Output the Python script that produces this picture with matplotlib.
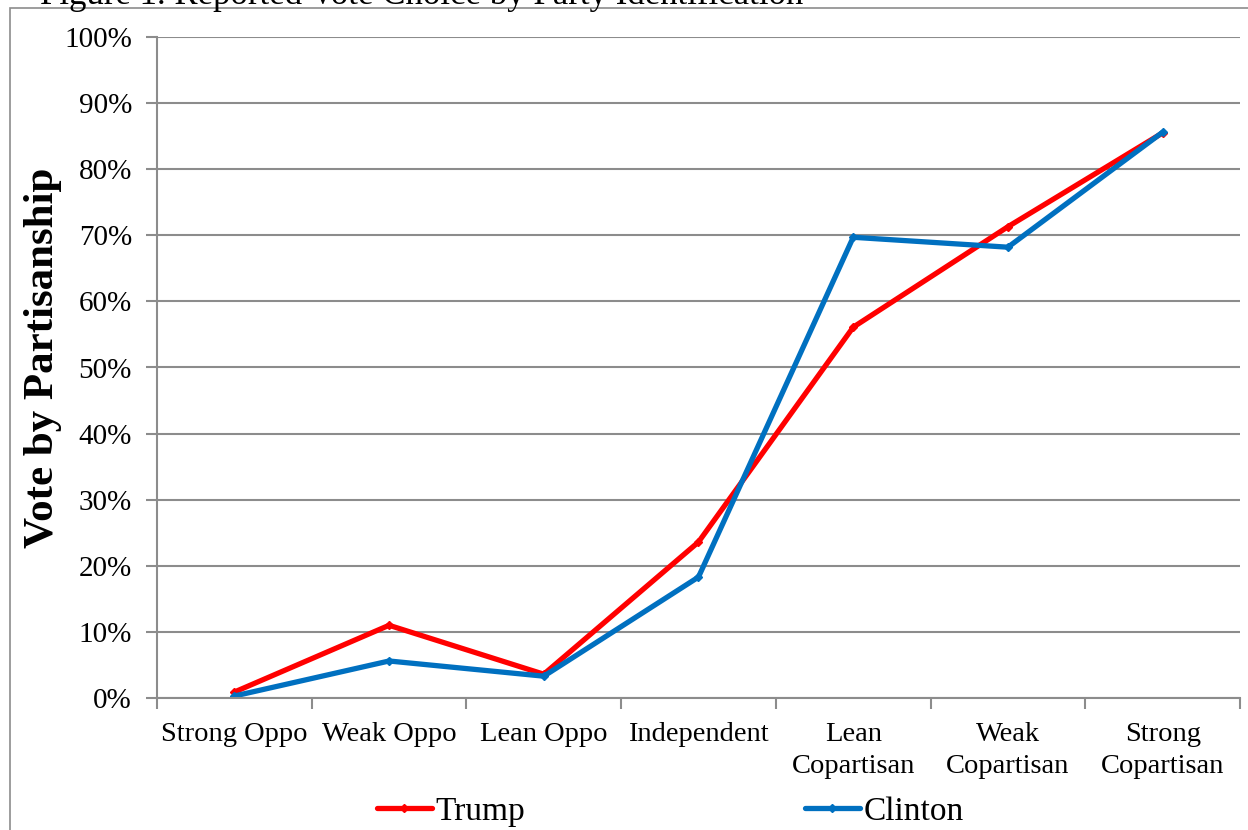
import matplotlib.pyplot as plt
from matplotlib.patches import Rectangle

categories = ['Strong Oppo', 'Weak Oppo', 'Lean Oppo', 'Independent',
              'Lean\nCopartisan', 'Weak\nCopartisan', 'Strong\nCopartisan']
trump = [0.9, 11.0, 3.6, 23.6, 56.1, 71.3, 85.5]
clinton = [0.3, 5.6, 3.3, 18.3, 69.7, 68.2, 85.6]
yticks = [0, 10, 20, 30, 40, 50, 60, 70, 80, 90, 100]

plt.rcParams['font.family'] = ['Liberation Serif', 'DejaVu Serif']

fig = plt.figure(figsize=(12.48, 8.3), dpi=100)
ax = fig.add_axes([157/1248, 132/830, 1083/1248, 661/830])

xs = [i + 0.5 for i in range(len(categories))]
ax.plot(xs, trump, color='#ff0000', lw=3.8, marker='D', ms=4, label='Trump',
        solid_joinstyle='round', solid_capstyle='round')
ax.plot(xs, clinton, color='#0070c0', lw=3.8, marker='D', ms=4, label='Clinton',
        solid_joinstyle='round', solid_capstyle='round')

ax.set_xlim(0, 7)
ax.set_ylim(0, 100)
ax.set_yticks(yticks)
ax.set_yticklabels([f'{v}%' for v in yticks], fontsize=21)
ax.yaxis.grid(True, color='#8c8c8c', lw=1.5)
ax.set_axisbelow(True)

ax.set_xticks(range(8))
ax.set_xticklabels([])
ax.set_xticks(xs, minor=True)
ax.set_xticklabels(categories, minor=True, fontsize=20.5, linespacing=1.4)
ax.tick_params(axis='x', which='major', length=8, width=1.5, color='#8c8c8c', direction='out')
ax.tick_params(axis='x', which='minor', length=0, pad=17)
ax.tick_params(axis='y', length=8, width=1.5, color='#8c8c8c', pad=10)

for s in ['top', 'right']:
    ax.spines[s].set_visible(False)
for s in ['left', 'bottom']:
    ax.spines[s].set_color('#8c8c8c')
    ax.spines[s].set_linewidth(1.5)

ax.set_ylabel('Vote by Partisanship', fontsize=31, fontweight='bold')
ax.yaxis.set_label_coords(-0.088, 0.515)

fig.legend(loc='center', bbox_to_anchor=(0.537, 0.022), ncol=2, frameon=False,
           fontsize=24, handlelength=1.65, handletextpad=0.1, columnspacing=8.4)

fig.patches.append(Rectangle((10/1248, -0.1), 1.2, 0.1 + 822/830, transform=fig.transFigure,
                             fill=False, edgecolor='#8c8c8c', lw=1.2))
fig.text(40/1248, 1 - 4/830, 'Figure 1. Reported Vote Choice by Party Identification',
         fontsize=25, va='baseline', ha='left')

fig.savefig('out.png', dpi=100)
